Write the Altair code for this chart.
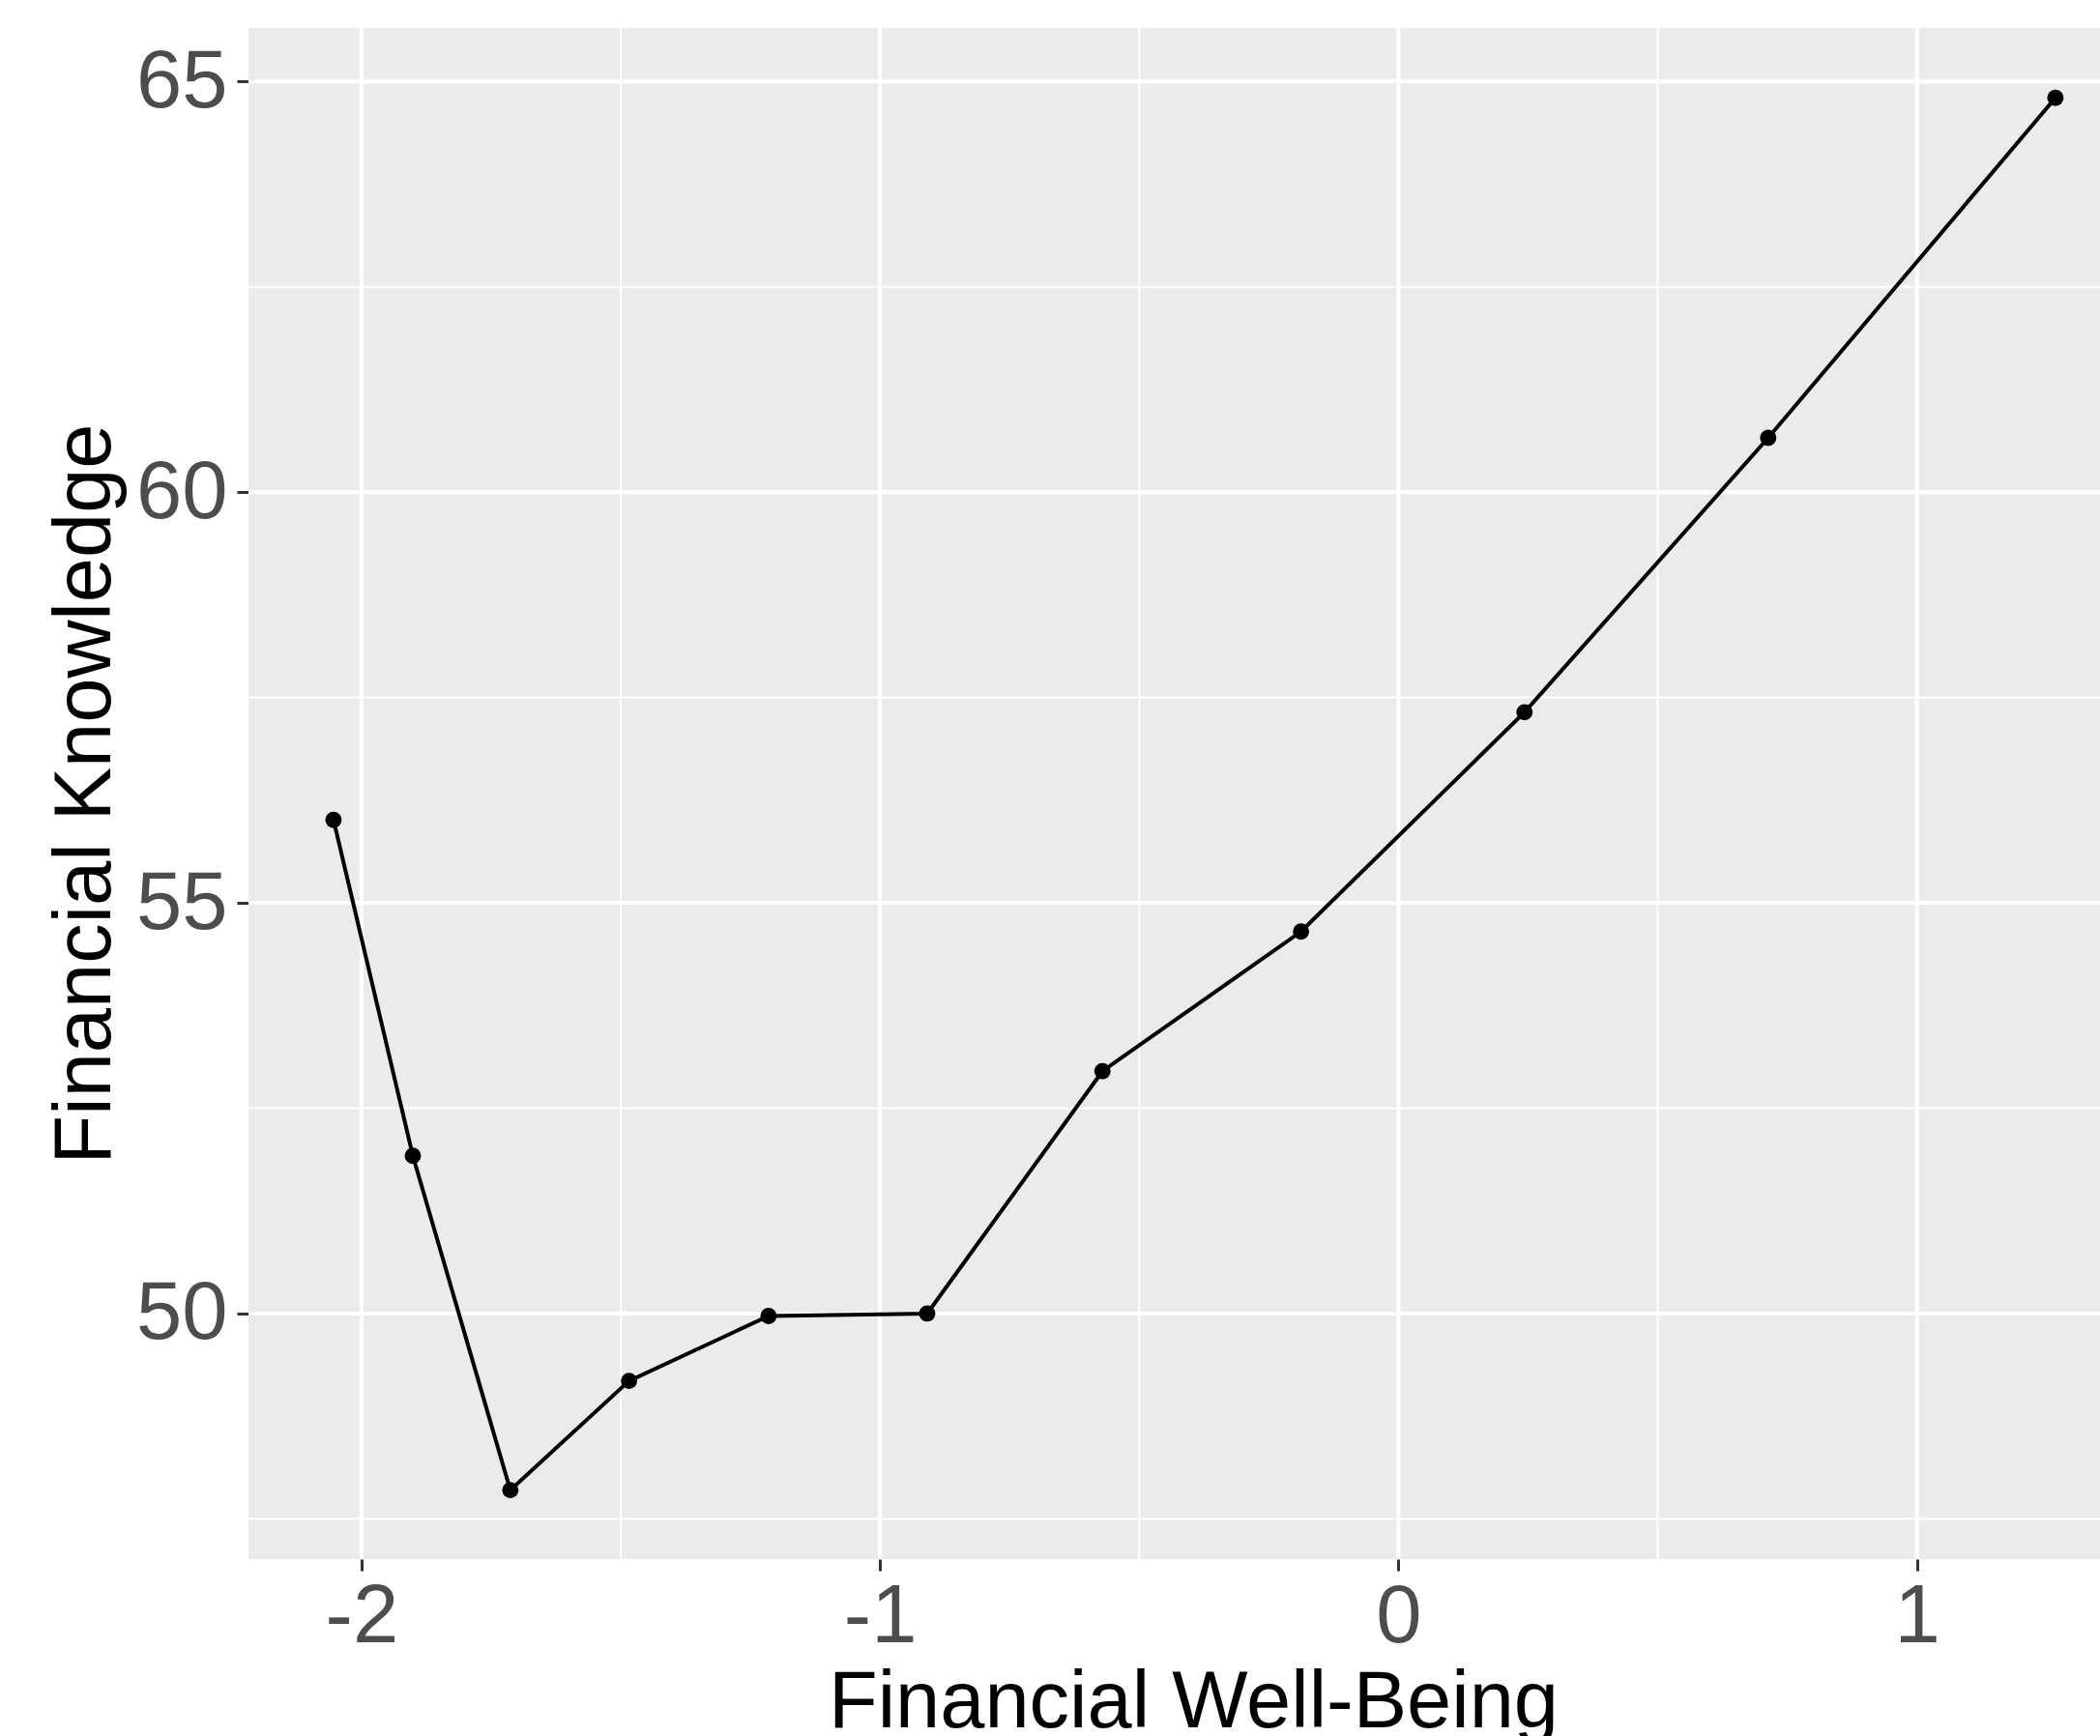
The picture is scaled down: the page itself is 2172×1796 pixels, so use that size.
import altair as alt
import pandas as pd

# Data
well_being = [-2.054, -1.901, -1.713, -1.484, -1.215, -0.909, -0.571, -0.188, 0.243, 0.713, 1.267]
knowledge = [56.01, 51.92, 47.85, 49.18, 49.97, 50.00, 52.95, 54.65, 57.32, 60.66, 64.80]

x_major = [-2, -1, 0, 1]
x_minor = [-1.5, -0.5, 0.5]
y_major = [50, 55, 60, 65]
y_minor = [47.5, 52.5, 57.5, 62.5]

x_domain = [-2.218, 1.353]
y_domain = [47.01, 65.65]

df = pd.DataFrame({"x": well_being, "y": knowledge})

FONT = "Liberation Sans"

xscale = alt.Scale(domain=x_domain, nice=False, zero=False)
yscale = alt.Scale(domain=y_domain, nice=False, zero=False)

xaxis = alt.Axis(
    values=x_major, grid=False, domain=False, title="Financial Well-Being",
    labelExpr="toString(datum.value)",
    labelFont=FONT, labelFontSize=85, labelColor="#4D4D4D", labelPadding=6,
    tickColor="#333333", tickSize=12, tickWidth=3,
    titleFont=FONT, titleFontSize=83, titleFontWeight="normal", titleColor="#000000",
    titleX=977, titleY=173, titleAlign="center", titleBaseline="alphabetic",
    labelFlush=False, labelOverlap=False,
)
yaxis = alt.Axis(
    values=y_major, grid=False, domain=False, title="Financial Knowledge",
    labelExpr="toString(datum.value)",
    labelFont=FONT, labelFontSize=85, labelColor="#4D4D4D", labelPadding=10,
    tickColor="#333333", tickSize=12, tickWidth=3,
    titleFont=FONT, titleFontSize=83, titleFontWeight="normal", titleColor="#000000",
    titleX=-144, titleY=792, titleAlign="center", titleBaseline="alphabetic", titleAngle=-90,
    labelFlush=False, labelOverlap=False,
)

vminor = alt.Chart(pd.DataFrame({"x": x_minor})).mark_rule(color="white", strokeWidth=2).encode(
    x=alt.X("x:Q", scale=xscale, axis=xaxis))
vmajor = alt.Chart(pd.DataFrame({"x": x_major})).mark_rule(color="white", strokeWidth=4).encode(
    x=alt.X("x:Q", scale=xscale, axis=xaxis))
hminor = alt.Chart(pd.DataFrame({"y": y_minor})).mark_rule(color="white", strokeWidth=2).encode(
    y=alt.Y("y:Q", scale=yscale, axis=yaxis))
hmajor = alt.Chart(pd.DataFrame({"y": y_major})).mark_rule(color="white", strokeWidth=4).encode(
    y=alt.Y("y:Q", scale=yscale, axis=yaxis))

base = alt.Chart(df).encode(
    x=alt.X("x:Q", scale=xscale, axis=xaxis),
    y=alt.Y("y:Q", scale=yscale, axis=yaxis),
)
line = base.mark_line(color="black", strokeWidth=4)
points = base.mark_circle(color="black", size=285, opacity=1)

chart = alt.layer(vminor, hminor, vmajor, hmajor, line, points).properties(
    width=1915, height=1584,
    autosize=alt.AutoSizeParams(type="none"),
    padding={"left": 257, "top": 29, "right": 0, "bottom": 183},
    background="white",
).configure_view(fill="#EBEBEB", stroke=None)

chart.save("out.html", embed_options={"renderer": "svg", "actions": False})
